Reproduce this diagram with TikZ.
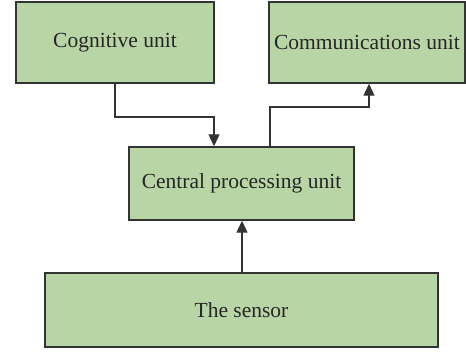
\documentclass[tikz,border=0pt]{standalone}
\usepackage{fontspec}
\setmainfont{Liberation Serif}
\usetikzlibrary{arrows.meta}
\definecolor{boxfill}{HTML}{B8D5A6}
\definecolor{edge}{HTML}{333333}
\begin{document}
\begin{tikzpicture}[x=1pt,y=1pt,
  unitbox/.style={draw=edge,line width=1.4pt,fill=boxfill,inner sep=0pt,
    font=\fontsize{21.5}{24}\selectfont,text=black!85},
  link/.style={draw=edge,line width=1.1pt,-{Triangle[length=12pt,width=11pt]}}]
\useasboundingbox (0,0) rectangle (466,351);
% boxes, given by corners (y measured upward)
\node[unitbox,minimum width=198pt,minimum height=81pt] (cog) at (115,308.5) {Cognitive unit};
\node[unitbox,minimum width=196pt,minimum height=81pt] (com) at (367,308.5) {Communications unit};
\node[unitbox,minimum width=225pt,minimum height=73pt] (cpu) at (241.5,167.5) {Central processing unit};
\node[unitbox,minimum width=393pt,minimum height=74pt] (sen) at (241.5,41) {The sensor};
% connectors
\draw[link] (cog.south) |- (214,234) -- (214,0 |- cpu.north);
\draw[link] (270,0 |- cpu.north) |- (369,244) -- (369,0 |- com.south);
\draw[link] (242,0 |- sen.north) -- (242,0 |- cpu.south);
\end{tikzpicture}
\end{document}
